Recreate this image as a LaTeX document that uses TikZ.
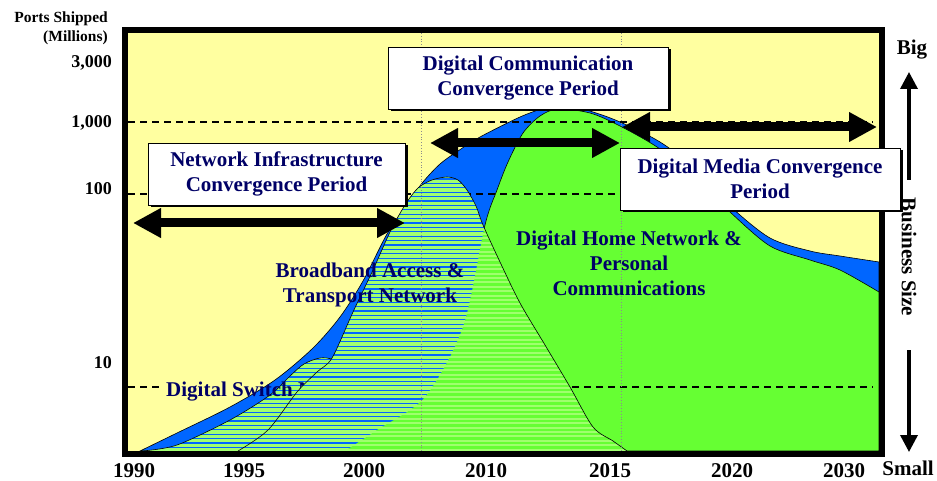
\documentclass[tikz,border=0pt]{standalone}
\usepackage{fontspec}
\setmainfont{Liberation Serif}
\usetikzlibrary{arrows.meta, shadows}

\definecolor{chartyellow}{RGB}{255,255,160}
\definecolor{chartblue}{RGB}{0,102,255}
\definecolor{chartgreen}{RGB}{102,255,51}
\definecolor{hatchgreen}{RGB}{160,255,110}
\definecolor{navytext}{RGB}{0,0,102}

% area outlines (pixel coordinates, y pointing down)
\newcommand{\envline}{plot[smooth] coordinates {(140,451) (177,433) (230,407) (275,380) (313,348) (340,317) (363,281) (387,234) (408,203) (423,182) (440,164) (458,151) (480,137) (520,117) (545,108) (565,105) (593,112) (620,122) (660,142) (700,172) (730,206) (770,238) (810,251) (840,256) (879,262)}}
\newcommand{\greenline}{plot[smooth] coordinates {(345,451) (377,430) (425,397) (463,327) (485,225) (497,190) (508,162) (523,133) (540,116) (558,109) (590,113) (620,126) (660,149) (700,182) (730,212) (770,246) (810,260) (840,270) (879,292)}}
\newcommand{\switchline}{plot[smooth] coordinates {(142,451) (177,445) (230,420) (270,395) (290,376) (304,364) (320,358) (333,360) (350,375) (385,420) (420,445) (440,451)}}
\newcommand{\humpline}{plot[smooth] coordinates {(238,451) (268,430) (297,392) (317,372) (332,358) (353,312) (373,270) (390,232) (405,205) (418,188) (432,180) (447,177) (458,180) (467,190) (476,206) (483,225) (500,262) (520,303) (545,345) (570,387) (593,427) (613,441) (627,451)}}

\begin{document}
\begin{tikzpicture}[
  x=1pt, y=-1pt,
  periodbox/.style={draw=black, line width=0.8pt, fill=white, text=navytext, font=\fontsize{21}{25.5}\selectfont\bfseries, align=center, minimum width=280pt, minimum height=62pt, inner sep=0pt, drop shadow={shadow xshift=2.5pt, shadow yshift=-2.5pt, fill=black, opacity=1}},
  arealabel/.style={text=navytext, font=\fontsize{21}{25}\selectfont\bfseries, align=center, inner sep=0pt},
  ticklabel/.style={font=\fontsize{18}{20}\selectfont\bfseries, anchor=base east, inner sep=0pt},
  unitlabel/.style={font=\fontsize{15.5}{17}\selectfont\bfseries, anchor=base east, inner sep=0pt},
  yearlabel/.style={font=\fontsize{21}{23}\selectfont\bfseries, anchor=base, inner sep=0pt},
  sizelabel/.style={font=\fontsize{21}{23}\selectfont\bfseries, inner sep=0pt},
  outline/.style={draw=black, line width=0.6pt},
  gridline/.style={dash pattern=on 7pt off 5pt, line width=2pt},
  yearline/.style={dotted, line width=0.8pt, black!45},
  hatchline/.style={chartblue, line width=1.3pt},
  hatchgreenline/.style={chartgreen, line width=2.3pt},
  bigarrow/.style={{Triangle[length=28pt,width=28pt]}-{Triangle[length=28pt,width=28pt]}, line width=9pt},
  sizearrow/.style={-{Triangle[length=17pt,width=17pt]}, line width=3.5pt}
]

\fill[white] (0,0) rectangle (937,481);
\useasboundingbox (0,0) rectangle (937,481);

% plot area
\fill[chartyellow] (125,30) rectangle (882,454);

% stacked areas
\fill[chartblue, outline] \envline -- (879,451) -- cycle;
\fill[chartgreen, outline] \greenline -- (879,451) -- cycle;

% level lines
\draw[gridline] (128,122) -- (873,122);
\draw[gridline] (128,194) -- (873,194);
\draw[gridline] (128,387) -- (163,387);
\draw[gridline] (560,387) -- (873,387);

% digital switch hump
\begin{scope}
  \clip \switchline -- cycle;
  \fill[hatchgreen] (128,340) rectangle (460,451);
  \foreach \y in {179,183.4,...,451} \draw[hatchline] (128,\y) -- (460,\y);
\end{scope}
\draw[outline] \switchline;
\node[arealabel, anchor=west] (switchlbl) at (166,392) {Digital Switch Network};

% broadband hump
\begin{scope}
  \clip \humpline -- cycle;
  \fill[hatchgreen] (128,170) rectangle (640,451);
  \foreach \y in {179,183.4,...,451} \draw[hatchline] (128,\y) -- (640,\y);
  \begin{scope}
    \clip \greenline -- (879,451) -- cycle;
    \foreach \y in {179,183.4,...,451} \draw[hatchgreenline] (128,\y) -- (640,\y);
  \end{scope}
\end{scope}
\draw[outline] \humpline;

% year markers
\draw[yearline] (421,33) -- (421,451);
\draw[yearline] (621,33) -- (621,451);

% area labels
\node[arealabel] (bblbl) at (370,284.5) {Broadband Access \&\\Transport Network};
\node[arealabel] (homelbl) at (629,263) {Digital Home Network \&\\Personal\\Communications};

% frame
\draw[line width=6pt] (125,30) rectangle (882,454);

% periods
\node[periodbox, minimum width=257pt] (nicp) at (276.5,174) {Network Infrastructure\\Convergence Period};
\node[periodbox] (dccp) at (528,78) {Digital Communication\\Convergence Period};
\node[periodbox] (dmcp) at (760,179) {Digital Media Convergence\\Period};

\coordinate (nicL) at (133,223);
\coordinate (nicR) at (405,223);
\coordinate (dccL) at (430,143);
\coordinate (dccR) at (620,143);
\coordinate (dmcL) at (622,127);
\coordinate (dmcR) at (877,127);
\draw[bigarrow] (nicL) -- (nicR);
\draw[bigarrow] (dccL) -- (dccR);
\draw[bigarrow] (dmcL) -- (dmcR);

% y axis
\node[unitlabel] (ports) at (108,23) {Ports Shipped};
\node[unitlabel] (millions) at (108,42) {(Millions)};
\node[ticklabel] (t3000) at (112,68) {3,000};
\node[ticklabel] (t1000) at (112,128) {1,000};
\node[ticklabel] (t100) at (112,195) {100};
\node[ticklabel] (t10) at (112,368) {10};

% x axis
\foreach \yr/\xx in {1990/134, 1995/244, 2000/364, 2010/486, 2015/610, 2020/732, 2030/844}
  \node[yearlabel] (yr\yr) at (\xx,477) {\yr};

% business size
\node[sizelabel] (big) at (912,50) {Big};
\node[sizelabel, rotate=-90] (bizsize) at (909,257) {Business Size};
\node[sizelabel] (small) at (908,468) {Small};
\coordinate (upfoot) at (909,180);
\coordinate (uptip) at (909,72);
\coordinate (downfoot) at (909,350);
\coordinate (downtip) at (909,452);
\draw[sizearrow] (upfoot) -- (uptip);
\draw[sizearrow] (downfoot) -- (downtip);

\end{tikzpicture}
\end{document}
